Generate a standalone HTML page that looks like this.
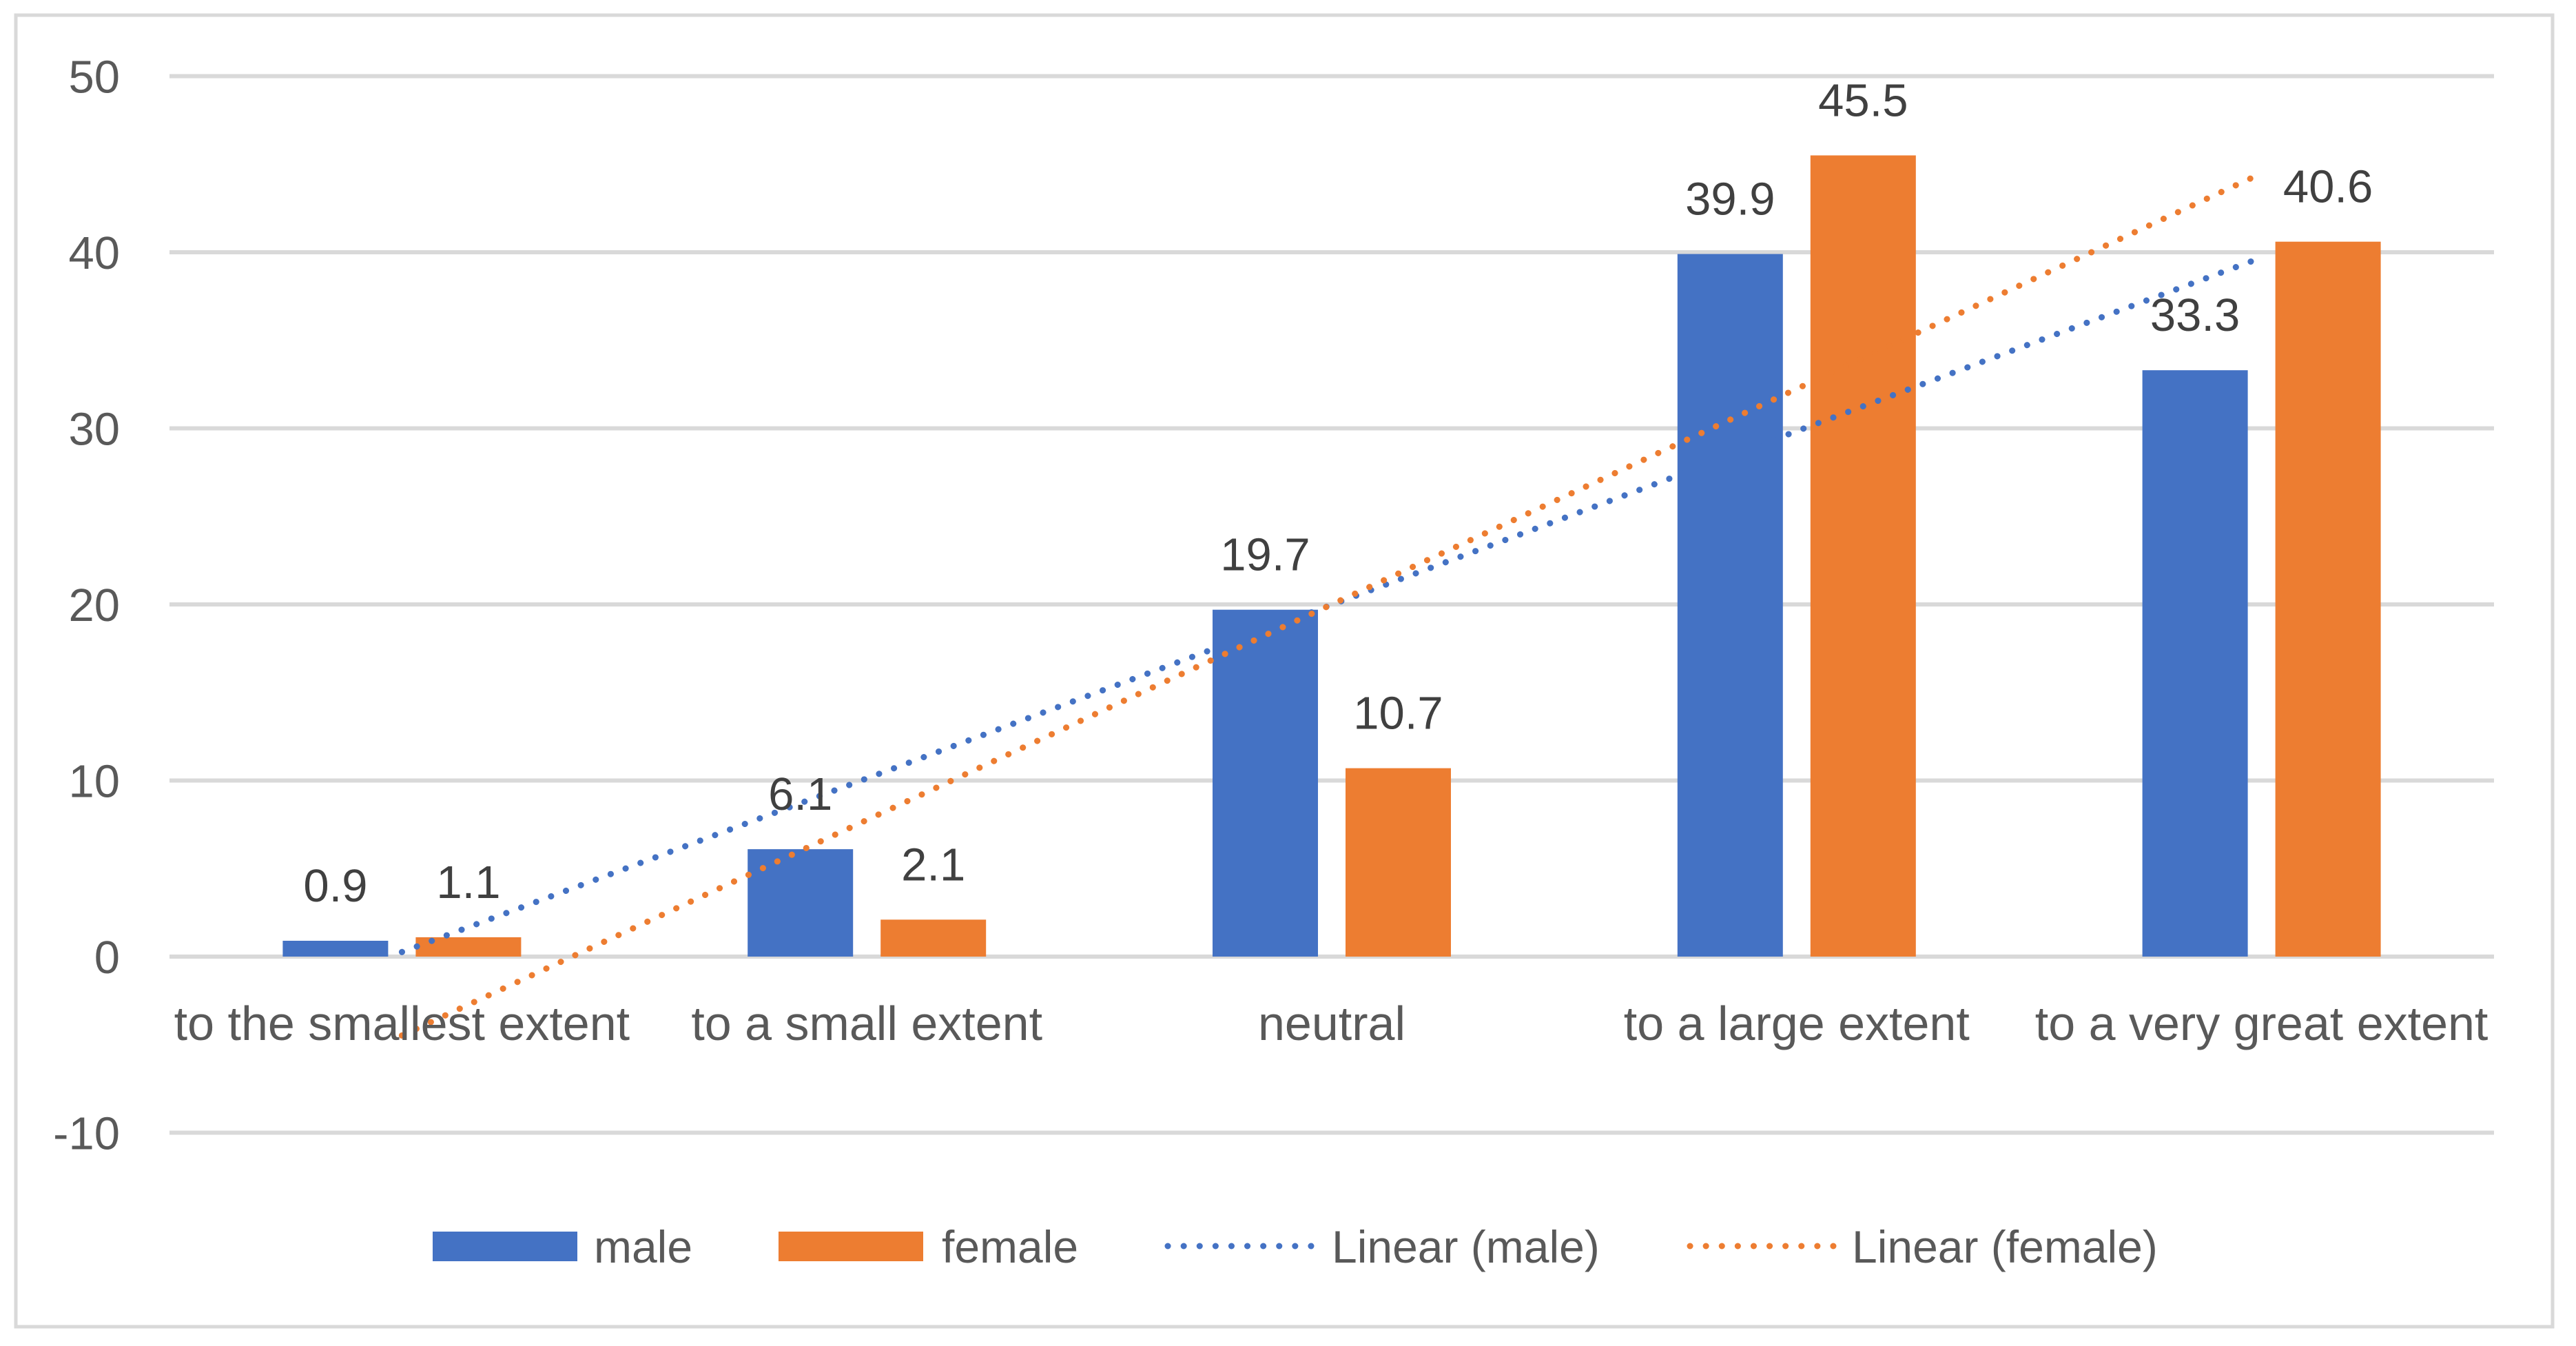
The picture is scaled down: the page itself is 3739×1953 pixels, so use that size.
<!DOCTYPE html>
<html><head><meta charset="utf-8"><style>
html,body{margin:0;padding:0;background:#fff;}
svg{display:block;font-family:"Liberation Sans",sans-serif;}
</style></head><body>
<svg id="chart" width="3739" height="1953" viewBox="0 0 3739 1953" xmlns="http://www.w3.org/2000/svg">
<rect x="23" y="22" width="3682" height="1903" fill="#fff" stroke="#d9d9d9" stroke-width="5"/>
<g id="grid"></g><g id="bars"></g><g id="trends"></g><g id="labels"></g>
<g id="legend">
<rect x="628" y="1787" width="210" height="43" fill="#4472c4"/>
<text x="862" y="1832" font-size="66" fill="#595959">male</text>
<rect x="1130" y="1787" width="210" height="43" fill="#ed7d31"/>
<text x="1367" y="1832" font-size="66" fill="#595959">female</text>
<line x1="1695" y1="1808" x2="1911" y2="1808" stroke="#4472c4" stroke-width="9" stroke-linecap="round" stroke-dasharray="0.1 23"/>
<text x="1933" y="1832" font-size="66" fill="#595959">Linear (male)</text>
<line x1="2453" y1="1808" x2="2666" y2="1808" stroke="#ed7d31" stroke-width="9" stroke-linecap="round" stroke-dasharray="0.1 23"/>
<text x="2688" y="1832" font-size="66" fill="#595959">Linear (female)</text>
</g>
</svg>
<script>
const categories = ["to the smallest extent","to a small extent","neutral","to a large extent","to a very great extent"];
const maleValues = [0.9, 6.1, 19.7, 39.9, 33.3];
const femaleValues = [1.1, 2.1, 10.7, 45.5, 40.6];
const yTicks = [-10, 0, 10, 20, 30, 40, 50];
const valueLabelsMale = ["0.9","6.1","19.7","39.9","33.3"];
const valueLabelsFemale = ["1.1","2.1","10.7","45.5","40.6"];

const NS = "http://www.w3.org/2000/svg";
const X0 = 246, X1 = 3620, Y0 = 1388, PER = 25.55;
const band = (X1 - X0) / categories.length;
const BW = 153, OFF = 96.5;
function y(v){ return Y0 - v * PER; }
function xc(i){ return X0 + band * (i + 0.5); }
function mk(tag, attrs, parent){ const e = document.createElementNS(NS, tag); for (const k in attrs) e.setAttribute(k, attrs[k]); parent.appendChild(e); return e; }

const grid = document.getElementById('grid');
yTicks.forEach(t => {
  const l = mk('line', {x1: X0, x2: X1, y1: y(t), y2: y(t), stroke: '#d9d9d9', 'stroke-width': 6}, grid);
  
  
  const tx = mk('text', {x: 174, y: y(t) + 24, 'font-size': 67, fill: '#595959', 'text-anchor': 'end'}, grid);
  tx.textContent = t;
  
  
});

const bars = document.getElementById('bars');
const labels = document.getElementById('labels');
function drawSeries(vals, texts, off, color, name){
  vals.forEach((v, i) => {
    const cx = xc(i) + off;
    const r = mk('rect', {x: cx - BW/2, y: Math.min(y(v), y(0)), width: BW, height: Math.abs(y(v) - y(0)), fill: color}, bars);
    
    
    const t = mk('text', {x: cx, y: y(v) - 57, 'font-size': 67, fill: '#404040', 'text-anchor': 'middle'}, labels);
    t.textContent = texts[i];
    
    
  });
}
drawSeries(maleValues, valueLabelsMale, -OFF, '#4472c4', 'male');
drawSeries(femaleValues, valueLabelsFemale, OFF, '#ed7d31', 'female');

categories.forEach((c, i) => {
  const t = mk('text', {x: xc(i), y: 1509, 'font-size': 70, fill: '#595959', 'text-anchor': 'middle'}, labels);
  t.textContent = c;
  
  
});

const trends = document.getElementById('trends');
function trend(vals, color, name){
  const n = vals.length; let sx=0, sy=0, sxy=0, sxx=0;
  vals.forEach((v,i)=>{ const xx=i+1; sx+=xx; sy+=v; sxy+=xx*v; sxx+=xx*xx; });
  const m = (n*sxy - sx*sy)/(n*sxx - sx*sx), b = (sy - m*sx)/n;
  const l = mk('line', {x1: xc(0), y1: y(m*1+b), x2: xc(n-1), y2: y(m*n+b), stroke: color, 'stroke-width': 9, 'stroke-linecap': 'round', 'stroke-dasharray': '0.1 23'}, trends);
  
  
}
trend(maleValues, '#4472c4', 'male');
trend(femaleValues, '#ed7d31', 'female');
</script>
</body></html>
